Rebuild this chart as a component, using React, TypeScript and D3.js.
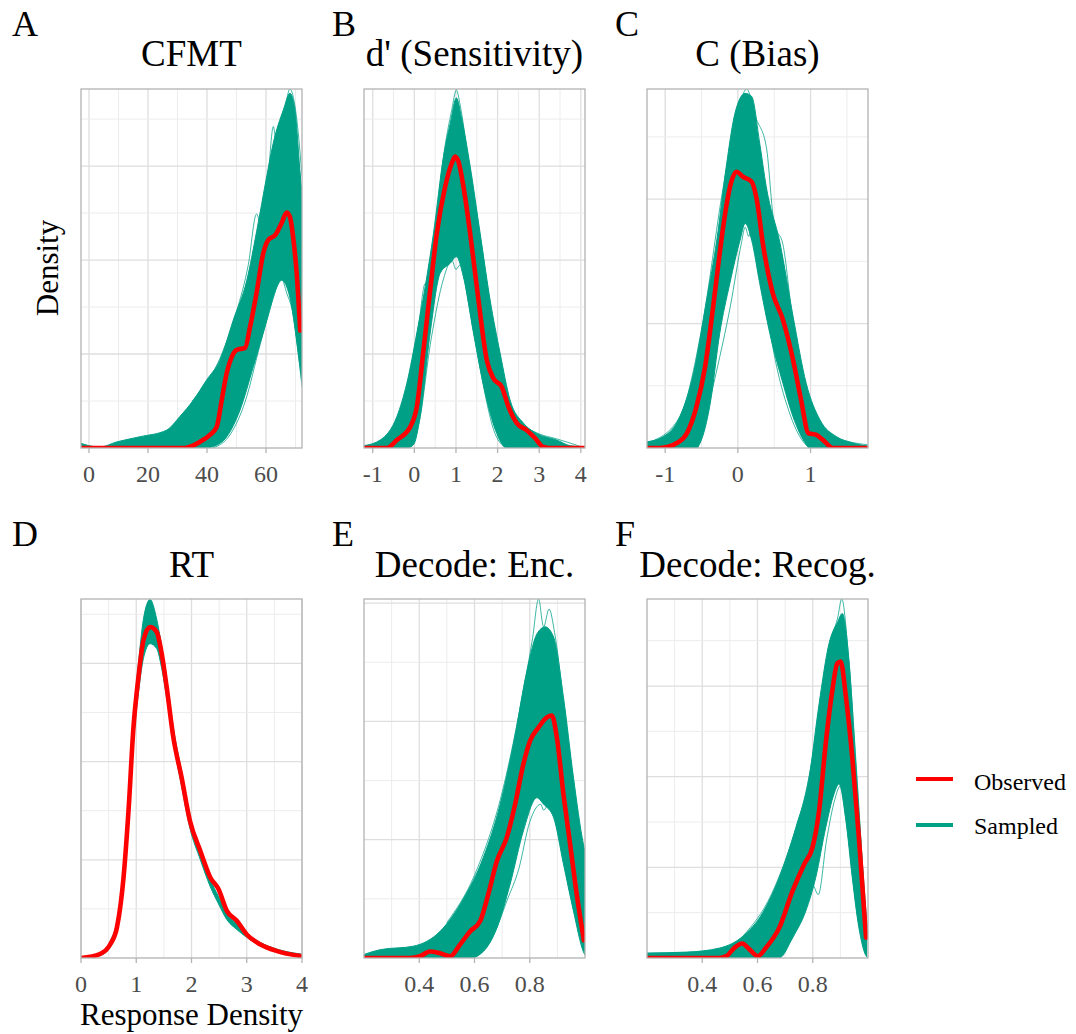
import React from "react";
import * as d3 from "d3";

type Pt = [number, number];

// ---------- Data (x value, density in panel grid units) ----------
// A: CFMT
const cfmtObserved: Pt[] = [[-2.7,0],[0,0],[32.5,0],[37.6,0.13],[41,0.28],[43.3,0.45],[45,1.02],[46.7,1.6],[48.4,1.94],[50.1,2.09],[52.9,2.13],[54.6,2.58],[56.8,3.3],[59.1,4.15],[60.8,4.43],[63.1,4.53],[65.3,4.79],[67,5.01],[68.1,4.92],[69.3,4.43],[70.4,3.72],[71.6,2.5]];
const cfmtSampledUpper: Pt[] = [[-2.7,0.1],[0,0.05],[3.7,0.02],[9.4,0.13],[17.3,0.24],[26.3,0.38],[30.8,0.67],[35.4,1.02],[39.9,1.45],[44.4,1.87],[48.9,2.72],[53.5,3.57],[56.8,4.6],[60.3,5.8],[62.5,6.5],[65.9,7.2],[68.1,7.55],[69.8,7.2],[71.5,5.9],[72.2,5.4]];
const cfmtSampledLower: Pt[] = [[-2.7,0],[40,0],[42.1,0.03],[46.7,0.24],[51.2,0.81],[55.7,1.73],[60.3,2.72],[63.7,3.43],[65.3,3.57],[68.1,3.2],[71.5,1.73],[72.2,1.4]];
const cfmtSampledHigh: Pt[] = [[35,1.0],[45,2.0],[50,2.9],[54,3.9],[56.8,4.98],[58.5,4.7],[60.5,5.6],[62.5,6.84],[64,6.2],[66,7.0],[68.1,7.64],[70,7.2],[72.2,5.8]];
const cfmtSampledLow: Pt[] = [[42,0],[48,0.3],[53,1.0],[58,2.2],[62,3.1],[65.3,3.6],[67,3.3],[69,2.9],[72.2,1.3]];

// B: d' (Sensitivity)
const dprimeObserved: Pt[] = [[-1.21,0],[-0.66,0],[-0.42,0.17],[-0.1,0.45],[0.06,0.88],[0.22,2.09],[0.38,3.36],[0.54,4.57],[0.74,5.56],[0.9,6.06],[0.98,6.2],[1.06,6.09],[1.18,5.56],[1.34,4.57],[1.54,3.15],[1.74,1.87],[1.9,1.48],[2.1,1.3],[2.26,0.88],[2.46,0.53],[2.7,0.38],[2.9,0.21],[3.1,0.02],[3.26,0],[4.1,0]];
const dprimeSampledUpper: Pt[] = [[-1.21,0.05],[-0.82,0.17],[-0.42,0.67],[-0.18,1.38],[0.06,2.45],[0.26,3.43],[0.46,4.57],[0.7,6.2],[0.86,6.9],[1.01,7.45],[1.14,7.0],[1.34,6.0],[1.58,4.57],[1.82,3.15],[2.06,2.02],[2.3,1.02],[2.62,0.53],[2.94,0.31],[3.42,0.17],[3.74,0.05],[4.1,0.02]];
const dprimeSampledLower: Pt[] = [[-1.21,0],[-0.18,0],[-0.02,0.07],[0.14,0.67],[0.38,2.45],[0.62,3.72],[0.86,3.93],[1.01,4.07],[1.18,3.64],[1.42,2.45],[1.74,1.02],[1.98,0.31],[2.22,0],[4.1,0]];
const dprimeSampledHigh: Pt[] = [[-0.6,0.3],[-0.2,1.2],[0.1,2.6],[0.26,3.5],[0.36,3.3],[0.5,4.6],[0.7,6.2],[0.9,7.2],[1.01,7.62],[1.1,7.3],[1.3,6.1],[1.6,4.4],[2.0,2.0],[2.5,0.6],[3.0,0.3],[3.4,0.2],[4.1,0]];
const dprimeSampledLow: Pt[] = [[-0.2,0],[0.1,0.5],[0.4,2.3],[0.7,3.6],[0.9,4.0],[1.0,3.8],[1.1,3.9],[1.3,3.1],[1.6,1.6],[1.9,0.4],[2.2,0]];

// C: C (Bias)
const biasObserved: Pt[] = [[-1.25,0],[-1.07,0],[-0.84,0.08],[-0.7,0.24],[-0.57,0.66],[-0.45,1.31],[-0.34,2.27],[-0.25,3.13],[-0.16,3.88],[-0.09,4.28],[-0.02,4.44],[0.07,4.36],[0.19,4.28],[0.26,3.99],[0.35,3.24],[0.48,2.49],[0.62,2.06],[0.76,1.41],[0.87,0.77],[0.97,0.24],[1.08,0.21],[1.17,0.13],[1.31,0],[1.79,0]];
const biasSampledUpper: Pt[] = [[-1.25,0.1],[-1.03,0.18],[-0.8,0.5],[-0.61,1.2],[-0.43,2.38],[-0.29,3.34],[-0.16,4.52],[-0.04,5.38],[0.1,5.7],[0.19,5.65],[0.3,4.9],[0.39,4.2],[0.58,3.29],[0.76,2.11],[0.94,1.04],[1.13,0.45],[1.36,0.18],[1.58,0.08],[1.79,0.03]];
const biasSampledLower: Pt[] = [[-1.25,0],[-0.57,0],[-0.52,0.08],[-0.38,0.72],[-0.25,1.84],[-0.11,2.65],[0.03,3.34],[0.1,3.61],[0.19,3.34],[0.3,2.65],[0.44,1.84],[0.62,1.04],[0.76,0.5],[0.9,0.13],[0.99,0],[1.79,0]];
const biasSampledHigh: Pt[] = [[-1.2,0.1],[-0.8,0.5],[-0.5,1.9],[-0.2,4.2],[0,5.4],[0.12,5.77],[0.25,5.3],[0.39,4.85],[0.5,3.6],[0.62,3.27],[0.75,2.1],[1.0,0.7],[1.3,0.2],[1.79,0.05]];
const biasSampledLow: Pt[] = [[-0.55,0],[-0.3,1.2],[-0.1,2.3],[0.05,3.3],[0.1,3.55],[0.15,3.4],[0.2,3.6],[0.35,2.6],[0.5,1.5],[0.7,0.6],[0.9,0.1],[1.0,0]];

// D: RT
const rtObserved: Pt[] = [[0,0],[0.34,0.08],[0.53,0.28],[0.65,0.62],[0.77,1.64],[0.86,3.0],[0.95,4.7],[1.04,5.72],[1.13,6.47],[1.25,6.74],[1.37,6.64],[1.46,6.2],[1.55,5.52],[1.67,4.5],[1.82,3.68],[1.97,2.8],[2.16,2.18],[2.34,1.64],[2.49,1.4],[2.64,0.96],[2.82,0.76],[3.0,0.48],[3.24,0.28],[3.55,0.14],[3.98,0.04]];
const rtSampledUpper: Pt[] = [[0,0],[0.34,0.08],[0.53,0.35],[0.65,0.75],[0.77,1.8],[0.86,3.2],[0.95,4.9],[1.04,6.0],[1.13,6.9],[1.25,7.3],[1.37,6.9],[1.46,6.35],[1.55,5.7],[1.67,4.7],[1.82,3.8],[1.97,2.9],[2.16,2.2],[2.34,1.6],[2.49,1.25],[2.64,0.9],[2.82,0.7],[3.0,0.5],[3.24,0.32],[3.55,0.18],[3.98,0.08]];
const rtSampledLower: Pt[] = [[0,0],[0.34,0.05],[0.53,0.22],[0.65,0.55],[0.77,1.5],[0.86,2.8],[0.95,4.4],[1.04,5.4],[1.13,6.1],[1.25,6.4],[1.37,6.3],[1.46,5.9],[1.55,5.3],[1.67,4.4],[1.82,3.5],[1.97,2.65],[2.16,2.0],[2.34,1.45],[2.49,1.1],[2.64,0.78],[2.82,0.58],[3.0,0.42],[3.24,0.25],[3.55,0.12],[3.98,0.03]];
const rtSampledHigh: Pt[] = [];
const rtSampledLow: Pt[] = [];

// E: Decode: Enc.
const encObserved: Pt[] = [[0.2,0],[0.367,0],[0.403,0.03],[0.439,0.11],[0.475,0.08],[0.512,0.03],[0.548,0.23],[0.584,0.45],[0.62,0.62],[0.65,1.08],[0.681,1.64],[0.717,2.04],[0.747,2.6],[0.777,3.28],[0.801,3.67],[0.832,3.9],[0.862,4.07],[0.88,4.1],[0.898,3.73],[0.922,2.77],[0.946,1.93],[0.97,1.08],[0.996,0.3]];
const encSampledUpper: Pt[] = [[0.2,0.06],[0.258,0.14],[0.379,0.2],[0.475,0.45],[0.56,1.0],[0.632,1.7],[0.693,2.6],[0.741,3.62],[0.79,4.86],[0.826,5.48],[0.856,5.6],[0.886,5.43],[0.922,4.41],[0.958,3.06],[0.994,1.93],[1.0,1.8]];
const encSampledLower: Pt[] = [[0.2,0],[0.584,0],[0.632,0.11],[0.681,0.51],[0.729,1.25],[0.777,2.15],[0.826,2.71],[0.85,2.6],[0.886,2.38],[0.922,1.59],[0.958,0.8],[0.994,0.11],[1.0,0.05]];
const encSampledHigh: Pt[] = [[0.5,0.6],[0.6,1.4],[0.7,2.8],[0.78,4.6],[0.81,5.4],[0.832,6.07],[0.85,5.6],[0.87,5.9],[0.89,5.5],[0.93,4.0],[0.97,2.5],[1.0,1.6]];
const encSampledLow: Pt[] = [[0.6,0],[0.66,0.3],[0.72,1.0],[0.76,1.5],[0.8,2.3],[0.84,2.6],[0.85,2.5],[0.87,2.6],[0.9,2.2],[0.95,1.0],[1.0,0.05]];

// F: Decode: Recog.
const recObserved: Pt[] = [[0.2,0],[0.46,0],[0.487,0.04],[0.517,0.23],[0.545,0.32],[0.571,0.19],[0.601,0.04],[0.631,0.23],[0.679,0.67],[0.727,1.48],[0.769,2.07],[0.799,2.44],[0.823,3.25],[0.847,4.73],[0.871,5.91],[0.889,6.5],[0.901,6.54],[0.92,5.76],[0.943,4.43],[0.967,2.66],[0.993,0.45]];
const recSampledUpper: Pt[] = [[0.2,0.11],[0.343,0.13],[0.463,0.22],[0.547,0.48],[0.619,1.0],[0.679,1.78],[0.739,2.88],[0.787,3.99],[0.823,5.61],[0.859,6.94],[0.889,7.4],[0.907,7.6],[0.931,6.57],[0.955,4.36],[0.979,2.15],[0.997,0.67]];
const recSampledLower: Pt[] = [[0.2,0],[0.679,0],[0.727,0.45],[0.775,1.04],[0.811,1.78],[0.847,2.88],[0.877,3.62],[0.895,3.84],[0.92,3.03],[0.943,1.78],[0.967,0.67],[0.991,0.07],[1.0,0]];
const recSampledHigh: Pt[] = [[0.55,0.5],[0.65,1.4],[0.72,2.5],[0.78,3.8],[0.82,5.2],[0.86,6.9],[0.89,7.5],[0.905,7.92],[0.93,6.6],[0.96,4.0],[0.99,1.0]];
const recSampledLow: Pt[] = [[0.68,0],[0.74,0.6],[0.78,1.2],[0.8,1.6],[0.82,1.4],[0.85,2.6],[0.88,3.5],[0.9,3.8],[0.93,2.6],[0.96,1.0],[0.99,0.1]];

// Titles / labels / ticks
const panelTitles = ["CFMT", "d' (Sensitivity)", "C (Bias)", "RT", "Decode: Enc.", "Decode: Recog."];
const panelLetters = ["A", "B", "C", "D", "E", "F"];
const xDomains: [number, number][] = [[-2.7, 72.2], [-1.21, 4.1], [-1.25, 1.79], [0, 4], [0.2, 1.0], [0.2, 1.0]];
const yMaxes = [7.64, 7.64, 5.77, 7.31, 6.07, 7.92];
const majorTicks = [[0, 20, 40, 60], [-1, 0, 1, 2, 3, 4], [-1, 0, 1], [0, 1, 2, 3, 4], [0.4, 0.6, 0.8], [0.4, 0.6, 0.8]];
const minorTicks = [[10, 30, 50, 70], [-0.5, 0.5, 1.5, 2.5, 3.5], [-0.5, 0.5, 1.5], [0.5, 1.5, 2.5, 3.5], [0.3, 0.5, 0.7, 0.9], [0.3, 0.5, 0.7, 0.9]];
const observedSeries = [cfmtObserved, dprimeObserved, biasObserved, rtObserved, encObserved, recObserved];
const upperSeries = [cfmtSampledUpper, dprimeSampledUpper, biasSampledUpper, rtSampledUpper, encSampledUpper, recSampledUpper];
const lowerSeries = [cfmtSampledLower, dprimeSampledLower, biasSampledLower, rtSampledLower, encSampledLower, recSampledLower];
const extremeSeries = [
  [cfmtSampledHigh, cfmtSampledLow],
  [dprimeSampledHigh, dprimeSampledLow],
  [biasSampledHigh, biasSampledLow],
  [rtSampledHigh, rtSampledLow],
  [encSampledHigh, encSampledLow],
  [recSampledHigh, recSampledLow],
];
const legendLabels = ["Observed", "Sampled"];

// ---------- Layout / style ----------
const RED = "#FF0000";
const TEAL = "#00A087";
const FONT = "'Liberation Serif', 'Times New Roman', serif";
const colLeft = [81, 364, 647];
const panelW = 221;
const rowTop = [89, 599];
const panelH = 359;
const letterX = [12, 332, 615];

function Panel({ i }: { i: number }) {
  const col = i % 3;
  const row = Math.floor(i / 3);
  const left = colLeft[col];
  const right = left + panelW;
  const top = rowTop[row];
  const bottom = top + panelH;
  const x = d3.scaleLinear().domain(xDomains[i]).range([left, right]);
  const y = d3.scaleLinear().domain([0, yMaxes[i]]).range([bottom, top]);
  const line = d3.line<Pt>().x(d => x(d[0])).y(d => y(d[1])).curve(d3.curveMonotoneX);
  const area = d3.area<Pt>().x(d => x(d[0])).y0(bottom).y1(d => y(d[1])).curve(d3.curveMonotoneX);
  const yGrid = d3.range(1, Math.floor(yMaxes[i]) + 1);
  const clipId = `clip${i}`;
  const maskId = `mask${i}`;
  const titleY = row === 0 ? 66 : 577;
  const letterY = row === 0 ? 36 : 546;
  return (
    <g>
      <defs>
        <clipPath id={clipId}>
          <rect x={left} y={top} width={panelW} height={panelH} />
        </clipPath>
        <mask id={maskId}>
          <path d={area(upperSeries[i]) || ""} fill="white" />
          <path d={area(lowerSeries[i]) || ""} fill="black" />
        </mask>
      </defs>
      <text x={letterX[col]} y={letterY} fontSize={36} fontFamily={FONT} fill="#000">{panelLetters[i]}</text>
      <text x={(left + right) / 2} y={titleY} fontSize={37} fontFamily={FONT} textAnchor="middle" fill="#000">{panelTitles[i]}</text>
      <rect x={left} y={top} width={panelW} height={panelH} fill="#fff" />
      {minorTicks[i].map(t => (
        <line key={"mx" + t} x1={x(t)} x2={x(t)} y1={top} y2={bottom} stroke="#ececec" strokeWidth={1} />
      ))}
      {majorTicks[i].map(t => (
        <line key={"Mx" + t} x1={x(t)} x2={x(t)} y1={top} y2={bottom} stroke="#dedede" strokeWidth={1.3} />
      ))}
      {yGrid.map(t => (
        <line key={"y" + t} x1={left} x2={right} y1={y(t)} y2={y(t)} stroke={t % 2 === 0 ? "#dedede" : "#ececec"} strokeWidth={t % 2 === 0 ? 1.3 : 1} />
      ))}
      <g clipPath={`url(#${clipId})`}>
        <rect x={left} y={top} width={panelW} height={panelH} fill={TEAL} mask={`url(#${maskId})`} />
        <path d={line(upperSeries[i]) || ""} fill="none" stroke={TEAL} strokeWidth={1} />
        <path d={line(lowerSeries[i]) || ""} fill="none" stroke={TEAL} strokeWidth={1} />
        {extremeSeries[i].filter(s => s.length > 0).map((s, k) => (
          <path key={k} d={line(s) || ""} fill="none" stroke={TEAL} strokeWidth={0.9} opacity={0.85} />
        ))}
        <path d={line(observedSeries[i]) || ""} fill="none" stroke={RED} strokeWidth={4.6} strokeLinejoin="round" strokeLinecap="round" />
      </g>
      <rect x={left} y={top} width={panelW} height={panelH} fill="none" stroke="#b3b3b3" strokeWidth={1.3} />
      {majorTicks[i].map(t => (
        <g key={"t" + t}>
          <line x1={x(t)} x2={x(t)} y1={bottom} y2={bottom + 5} stroke="#b3b3b3" strokeWidth={1.3} />
          <text x={x(t)} y={bottom + 34} fontSize={24} fontFamily={FONT} textAnchor="middle" fill="#4d4d4d">{String(t)}</text>
        </g>
      ))}
    </g>
  );
}

export default function App() {
  const legendColors = [RED, TEAL];
  return (
    <svg width={1076} height={1034} style={{ display: "block", position: "absolute", left: 0, top: 0, background: "#fff" }}>
      <rect width={1076} height={1034} fill="#fff" />
      {[0, 1, 2, 3, 4, 5].map(i => <Panel key={i} i={i} />)}
      <text transform="translate(58,268) rotate(-90)" fontSize={31} fontFamily={FONT} textAnchor="middle" fill="#000">Density</text>
      <text x={191.5} y={1025} fontSize={31} fontFamily={FONT} textAnchor="middle" fill="#000">Response Density</text>
      {legendLabels.map((l, k) => (
        <g key={l}>
          <line x1={916} x2={953} y1={779 + k * 46} y2={779 + k * 46} stroke={legendColors[k]} strokeWidth={4} />
          <text x={974} y={790 + k * 44} fontSize={24} fontFamily={FONT} fill="#000">{l}</text>
        </g>
      ))}
    </svg>
  );
}
